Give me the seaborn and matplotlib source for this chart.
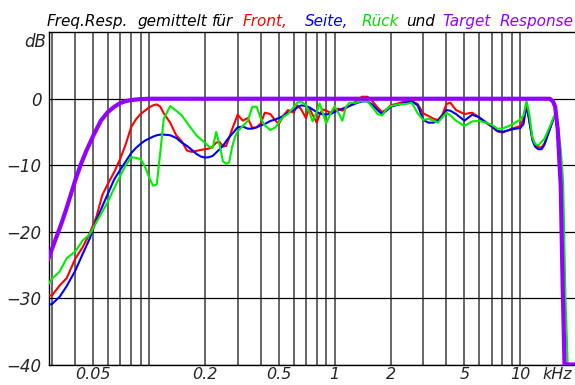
import matplotlib
matplotlib.use('Agg')
import matplotlib.pyplot as plt
import seaborn as sns
import pandas as pd
from matplotlib.ticker import FixedLocator, NullFormatter

# Frequenzraster (kHz) fuer die drei Messkurven
freq = [0.0285, 0.03, 0.033, 0.036, 0.04, 0.044, 0.048, 0.052, 0.056, 0.06,
        0.065, 0.07, 0.075, 0.08, 0.085, 0.09, 0.095, 0.1, 0.105, 0.11,
        0.115, 0.12, 0.13, 0.14, 0.15, 0.16, 0.17, 0.18, 0.19, 0.2,
        0.21, 0.22, 0.23, 0.24, 0.25, 0.26, 0.27, 0.28, 0.29, 0.3,
        0.32, 0.34, 0.36, 0.38, 0.4, 0.42, 0.45, 0.48, 0.5, 0.53,
        0.56, 0.6, 0.63, 0.66, 0.7, 0.73, 0.76, 0.8, 0.83, 0.86,
        0.9, 0.95, 1.0, 1.05, 1.1, 1.15, 1.2, 1.3, 1.4, 1.5,
        1.6, 1.7, 1.8, 1.9, 2.0, 2.2, 2.4, 2.6, 2.8, 3.0,
        3.2, 3.4, 3.6, 3.8, 4.0, 4.2, 4.5, 5.0, 5.5, 6.0,
        6.5, 7.0, 7.5, 8.0, 8.5, 9.0, 9.5, 10.0, 10.4, 10.8,
        11.2, 11.6, 12.0, 12.5, 13.0, 13.5, 14.0, 14.5, 15.0, 15.3,
        15.6, 16.0, 16.5, 17.0, 17.5, 18.0]

front = [-29.6, -29.6, -28.1, -27.0, -24.1, -22.3, -20.2, -17.8, -14.5, -12.8,
         -11.0, -9.0, -6.8, -4.3, -3.1, -2.3, -1.8, -1.3, -1.0, -0.85,
         -1.2, -2.2, -3.6, -5.5, -6.4, -7.8, -8.0, -7.85, -7.7, -7.6,
         -7.5, -7.2, -6.6, -6.5, -7.2, -7.1, -5.9, -4.6, -3.5, -2.4,
         -3.3, -2.9, -4.4, -4.3, -3.7, -2.1, -2.3, -3.3, -3.8, -2.5,
         -1.7, -2.1, -1.0, -1.6, -2.9, -1.4, -2.4, -3.6, -2.4, -1.6,
         -1.8, -2.1, -1.6, -1.5, -1.8, -1.4, -1.1, -0.4, 0.3, 0.3,
         -0.4, -1.3, -2.0, -1.6, -1.0, -0.7, -0.35, -0.35, -0.8, -2.2,
         -2.6, -3.0, -3.2, -2.4, -0.8, -0.6, -1.7, -2.3, -2.1, -2.8,
         -3.6, -4.2, -4.9, -5.1, -4.8, -4.5, -4.3, -4.1, -3.0, -0.6,
         -3.5, -5.8, -6.9, -7.3, -7.35, -6.7, -5.5, -4.3, -3.1, -2.6,
         -3.0, -6.0, -13.0, -32.0, -42.0, -45.0]

seite = [-31.0, -30.9, -29.8, -28.2, -25.9, -23.3, -21.0, -18.3, -16.2, -14.3,
         -12.1, -10.7, -9.4, -8.2, -7.4, -6.8, -6.3, -6.0, -5.7, -5.5,
         -5.4, -5.4, -5.5, -5.9, -6.6, -7.1, -7.7, -8.3, -8.7, -8.85,
         -8.8, -8.6, -8.1, -7.6, -7.1, -6.4, -5.8, -5.3, -4.8, -4.3,
         -4.2, -4.5, -4.5, -4.3, -4.0, -3.8, -3.35, -3.1, -2.9, -2.6,
         -2.1, -1.7, -1.3, -1.0, -1.1, -1.3, -1.6, -2.0, -2.2, -2.35,
         -2.35, -2.3, -2.0, -1.7, -1.5, -1.3, -1.1, -0.7, -0.4, -0.4,
         -0.9, -1.7, -2.3, -1.8, -1.2, -0.9, -0.6, -0.4, -1.0, -3.2,
         -3.6, -3.6, -3.3, -2.6, -1.7, -1.8, -2.3, -3.3, -2.4, -2.8,
         -3.5, -4.1, -4.8, -5.0, -4.8, -4.6, -4.5, -4.4, -3.8, -1.0,
         -3.5, -6.2, -7.2, -7.6, -7.6, -6.9, -5.6, -4.4, -3.2, -2.6,
         -3.0, -6.0, -13.0, -32.0, -42.0, -45.0]

rueck = [-28.0, -27.1, -26.0, -24.0, -23.0, -21.3, -20.4, -18.6, -17.0, -15.5,
         -13.4, -11.6, -10.0, -8.8, -8.9, -9.1, -10.2, -11.8, -13.1, -12.9,
         -8.0, -3.0, -1.1, -1.8, -2.5, -3.6, -4.6, -5.5, -6.1, -6.6,
         -7.2, -7.4, -5.0, -7.0, -9.4, -9.8, -9.6, -7.3, -5.8, -4.9,
         -4.1, -3.3, -1.2, -1.2, -3.0, -4.0, -4.7, -4.3, -3.6, -2.7,
         -2.3, -1.3, -0.55, -0.4, -1.0, -2.0, -3.4, -2.0, -0.7, -2.0,
         -3.7, -2.2, -1.1, -2.2, -3.3, -1.2, -0.6, -0.6, -0.3, -0.4,
         -1.3, -2.3, -2.5, -1.6, -1.1, -0.85, -0.8, -0.6, -2.2, -3.2,
         -3.0, -3.3, -3.6, -2.8, -2.1, -2.5, -3.3, -4.1, -3.4, -3.35,
         -3.6, -3.9, -4.5, -4.5, -4.2, -3.9, -3.5, -3.1, -2.5, -0.35,
         -2.5, -5.8, -6.8, -7.0, -6.5, -6.0, -5.0, -4.0, -3.0, -2.6,
         -3.0, -4.5, -7.5, -12.5, -30.0, -40.0]

target_freq = [0.0285, 0.03, 0.032, 0.034, 0.036, 0.038, 0.04, 0.043, 0.046, 0.05,
               0.055, 0.06, 0.065, 0.07, 0.075, 0.08, 0.09, 0.1, 1.0, 10.0,
               14.4, 15.0, 15.4, 15.9, 16.2, 16.5, 16.9, 17.3, 20.0]
target = [-24.3, -22.6, -20.5, -18.5, -16.4, -14.3, -12.3, -9.8, -7.8, -5.6,
          -3.3, -2.0, -1.2, -0.65, -0.35, -0.2, -0.05, 0.0, 0.0, 0.0,
          0.0, -0.4, -1.2, -4.6, -9.0, -13.0, -28.0, -40.0, -40.0]

xtick_vals = [0.05, 0.2, 0.5, 1, 2, 5, 10]
xtick_labels = ['0.05', '0.2', '0.5', '1', '2', '5', '10']
ytick_vals = [-40, -30, -20, -10, 0]

meas = pd.DataFrame({'f': freq, 'Front': front, 'Seite': seite, 'Rück': rueck})
tgt = pd.DataFrame({'f': target_freq, 'dB': target})

sns.set_style('white')
plt.rcParams['font.family'] = ['DejaVu Sans']

W, H = 575, 385
fig = plt.figure(figsize=(W / 100, H / 100), dpi=100)
ax = fig.add_axes([48.7 / W, 1 - 364.5 / H, (W - 48.7) / W, (364.5 - 32.3) / H])

colors = {'Front': '#ff0000', 'Seite': '#0000ff', 'Rück': '#00ee00'}
for name in ['Front', 'Seite', 'Rück']:
    sns.lineplot(data=meas, x='f', y=name, color=colors[name], linewidth=1.5,
                 ax=ax, legend=False, zorder=3)
sns.lineplot(data=tgt, x='f', y='dB', color='#9400ff', linewidth=3.0,
             ax=ax, legend=False, zorder=4)

ax.set_xscale('log')
ax.set_xlim(0.0288, 19.7)
ax.set_ylim(-40, 10)

minor = [m * 10.0 ** e for e in (-2, -1, 0, 1) for m in range(1, 10)]
minor = [v for v in minor if 0.029 < v < 19 and round(v, 4) not in xtick_vals]
ax.set_xticks(xtick_vals)
ax.set_xticklabels(xtick_labels)
ax.xaxis.set_minor_locator(FixedLocator(minor))
ax.xaxis.set_minor_formatter(NullFormatter())
ax.set_yticks(ytick_vals)
ax.set_yticklabels(['\u221240', '\u221230', '\u221220', '\u221210', '0'])
ax.tick_params(axis='both', which='both', length=0)
ax.tick_params(axis='x', pad=2, labelsize=11.5)
ax.tick_params(axis='y', pad=5, labelsize=12)
for lab in ax.get_xticklabels() + ax.get_yticklabels():
    lab.set_fontstyle('italic')

ax.set_axisbelow(True)
ax.grid(True, which='both', axis='x', color='#3c3c3c', linewidth=1.1)
ax.grid(True, which='major', axis='y', color='black', linewidth=0.9)
for side in ['left', 'top', 'bottom']:
    ax.spines[side].set_color('black')
    ax.spines[side].set_linewidth(1.0)
ax.spines['right'].set_visible(False)
ax.set_xlabel('')
ax.set_ylabel('')

# Titel in Farbabschnitten
title_parts = [('Freq.Resp.', 46.7, 'black'), ('gemittelt', 137, 'black'),
               ('für', 212, 'black'), ('Front,', 243, '#ff0000'),
               ('Seite,', 305, '#0000ff'), ('Rück', 361.7, '#00dd00'),
               ('und', 406, 'black'), ('Target', 442.3, '#9400ff'),
               ('Response', 500, '#9400ff')]
for txt, xp, col in title_parts:
    fig.text(xp / W, 1 - 26 / H, txt, color=col, fontsize=11,
             style='italic', ha='left', va='baseline')

fig.text(46 / W, 1 - 42 / H, 'dB', fontsize=12, style='italic',
         ha='right', va='center')
fig.text(542 / W, 1 - 367 / H, 'kHz', fontsize=11.5, style='italic',
         ha='left', va='top')

fig.savefig('out.png', dpi=100)
plt.close(fig)
